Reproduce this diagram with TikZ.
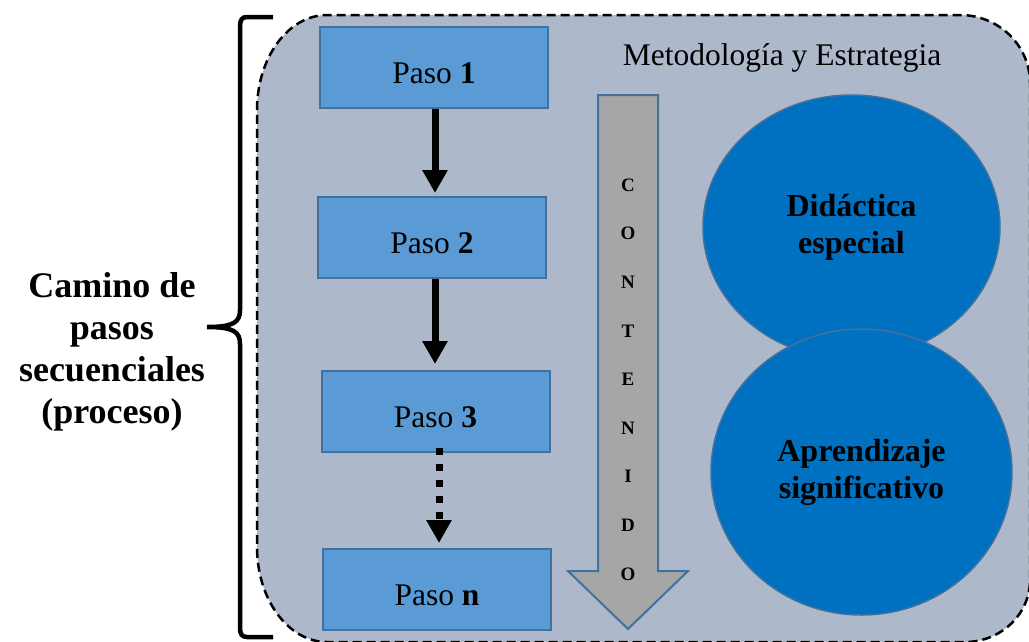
\documentclass[tikz,border=0pt]{standalone}
\usepackage{fontspec}
\setmainfont{Liberation Serif}
\usetikzlibrary{arrows.meta,shapes.geometric}

\definecolor{panelbg}{HTML}{ADB9CA}
\definecolor{stepfill}{HTML}{5B9BD5}
\definecolor{stepline}{HTML}{41719C}
\definecolor{ovalfill}{HTML}{0070C0}
\definecolor{flowgray}{HTML}{A6A6A6}

\tikzset{
  stepbox/.style={draw=stepline, line width=2pt, fill=stepfill, rectangle,
    minimum width=228pt, minimum height=81pt, inner sep=0pt,
    font=\fontsize{31.5}{33}\selectfont, text height=31pt, text depth=0pt},
  oval/.style={ellipse, draw=stepline, line width=1.5pt, fill=ovalfill, inner sep=0pt,
    align=center, font=\fontsize{32}{37}\selectfont\bfseries},
  flowarrow/.style={line width=7pt, -{Triangle[width=24pt,length=23pt]}},
  dotarrow/.style={flowarrow, dash pattern=on 7pt off 9pt},
  letter/.style={font=\fontsize{19}{19}\selectfont\bfseries, inner sep=0pt},
}

\begin{document}
\begin{tikzpicture}[x=1pt, y=-1pt]
\useasboundingbox (0,0) rectangle (1029,641);

% dashed rounded panel
\draw[fill=panelbg, line width=2.5pt, dash pattern=on 9pt off 5pt]
  (257,110) arc[start angle=180, end angle=270, x radius=70, y radius=95]
  -- (960,15) arc[start angle=270, end angle=360, x radius=70, y radius=68]
  -- (1030,580) arc[start angle=0, end angle=90, x radius=65, y radius=62]
  -- (327,642) arc[start angle=90, end angle=180, x radius=70, y radius=95]
  -- cycle;

% curly brace
\draw[line width=4.5pt, line cap=butt]
  (273,17) -- (247,17) .. controls (242,17) and (240,20) .. (240,26)
  -- (240,310) .. controls (240,322) and (234,327) .. (207,327)
  .. controls (234,327) and (240,332) .. (240,344)
  -- (240,628) .. controls (240,634) and (242,637) .. (247,637) -- (273,637);

\node[align=center, font=\fontsize{36}{42}\selectfont\bfseries] (label) at (112,352)
  {Camino de\\pasos\\secuenciales\\(proceso)};

% steps
\node[stepbox] (p1) at (434,67.5) {Paso \textbf{1}};
\node[stepbox] (p2) at (432,237.5) {Paso \textbf{2}};
\node[stepbox] (p3) at (435.5,411.5) {Paso \textbf{3}};
\node[stepbox] (pn) at (437,589.5) {Paso \textbf{n}};

\coordinate (t2) at (435,193);
\coordinate (t3) at (435,364);
\coordinate (tn) at (439,543);
\draw[flowarrow] (p1.south -| t2) -- (t2);
\draw[flowarrow] (p2.south -| t3) -- (t3);
\draw[dotarrow] ([yshift=5pt]p3.south -| tn) -- (tn);

\node[font=\fontsize{31.5}{33}\selectfont] (title) at (782,58) {Metodología y Estrategia};

% content block arrow
\draw[fill=flowgray, draw=stepline, line width=2pt, line join=miter]
  (598,95) -- (658,95) -- (658,571) -- (688,571) -- (628,629) -- (568,571) -- (598,571) -- cycle;
\foreach \ch [count=\i from 0] in {C,O,N,T,E,N,I,D,O}
  \node[letter] (c\i) at (628,185+48.6*\i) {\ch};

% ovals
\node[oval, minimum width=297pt, minimum height=264pt] (didac) at (851.5,227)
  {Didáctica\\especial};
\node[oval, minimum width=301pt, minimum height=286pt] (aprend) at (861.5,472)
  {Aprendizaje\\significativo};
\end{tikzpicture}
\end{document}
